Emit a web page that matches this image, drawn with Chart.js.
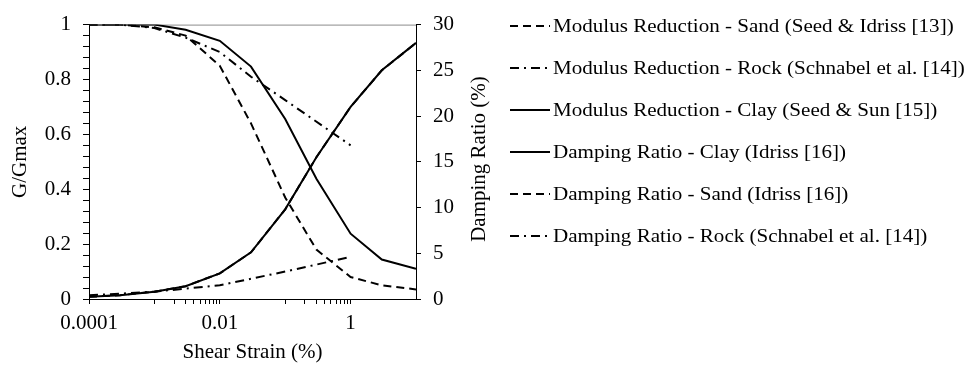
<!DOCTYPE html>
<html>
<head>
<meta charset="utf-8">
<script src="https://cdn.jsdelivr.net/npm/chart.js@4/dist/chart.umd.min.js"></script>
<style>
  html, body { margin: 0; padding: 0; background: #fff; }
  #wrap { width: 966px; height: 365px; }
</style>
</head>
<body>
<div id="wrap"><canvas id="strainChart"></canvas></div>
<script>
// strain values (%) shared by the sand and clay curves
const strain = [0.0001, 0.0003, 0.001, 0.003, 0.01, 0.03, 0.1, 0.3, 1, 3, 10];
const sandModulus = [1.0, 1.0, 0.99, 0.96, 0.85, 0.64, 0.37, 0.18, 0.08, 0.05, 0.035];
const clayModulus = [1.0, 1.0, 1.0, 0.981, 0.941, 0.847, 0.656, 0.438, 0.238, 0.144, 0.11];
const clayDamping = [0.24, 0.42, 0.8, 1.4, 2.8, 5.1, 9.8, 15.5, 21, 25, 28];
const sandDamping = [0.24, 0.42, 0.8, 1.4, 2.8, 5.1, 9.8, 15.5, 21, 25, 28];

// rock curves stop at 1 %
const rockStrain = [0.0001, 0.0003, 0.001, 0.003, 0.01, 0.03, 0.1, 1];
const rockModulus = [1.0, 1.0, 0.9875, 0.9525, 0.9, 0.81, 0.725, 0.56];
const rockDampStrain = [0.0001, 0.001, 0.01, 0.1, 1];
const rockDamping = [0.4, 0.8, 1.5, 3.0, 4.6];

const seriesLabels = [
    'Modulus Reduction - Sand (Seed & Idriss [13])',
    'Modulus Reduction - Rock (Schnabel et al. [14])',
    'Modulus Reduction - Clay (Seed & Sun [15])',
    'Damping Ratio - Clay (Idriss [16])',
    'Damping Ratio - Sand (Idriss [16])',
    'Damping Ratio - Rock (Schnabel et al. [14])'
];

// x axis tick marks (log scale) and the ones that carry a label
const xTickValues = [0.0001, 0.001, 0.002, 0.003, 0.004, 0.005, 0.006, 0.007, 0.008, 0.009, 0.01,
    0.1, 0.2, 0.3, 0.4, 0.5, 0.6, 0.7, 0.8, 0.9, 1];
const xLabelValues = [0.0001, 0.01, 1];
const xLabelText = ['0.0001', '0.01', '1'];

const serif = '"Liberation Serif", "Times New Roman", serif';
const dashed = [8, 5];
const dashDot = [9, 5, 2, 5];

function pairs(xs, ys) {
    return xs.map((x, i) => ({ x: x, y: ys[i] }));
}

function lineSet(label, data, axis, dash) {
    return {
        label: label,
        data: data,
        yAxisID: axis,
        borderColor: '#000',
        backgroundColor: '#000',
        borderWidth: 2,
        borderDash: dash,
        pointRadius: 0,
        tension: 0,
        fill: false
    };
}

// legend and right-hand title are drawn by hand so they sit where the original has them
const sidePlugin = {
    id: 'sideText',
    beforeDatasetsDraw(chart) {
        const { ctx, chartArea } = chart;
        ctx.save();
        ctx.strokeStyle = '#8c8c8c';
        ctx.lineWidth = 1;
        ctx.beginPath();
        ctx.moveTo(chartArea.left, chartArea.top + 0.5);
        ctx.lineTo(chartArea.right, chartArea.top + 0.5);
        ctx.stroke();
        ctx.restore();
    },
    afterDraw(chart) {
        const ctx = chart.ctx;
        ctx.save();
        ctx.fillStyle = '#000';

        // right axis title, reading bottom to top
        ctx.save();
        ctx.translate(479, 159);
        ctx.rotate(-Math.PI / 2);
        ctx.font = '21px ' + serif;
        ctx.textAlign = 'center';
        ctx.textBaseline = 'middle';
        ctx.fillText('Damping Ratio (%)', 0, 0);
        ctx.restore();

        // legend
        chart.data.datasets.forEach((ds, i) => {
            const cy = 26 + i * 42;
            ctx.save();
            ctx.strokeStyle = '#000';
            ctx.lineWidth = 2;
            ctx.setLineDash(ds.borderDash || []);
            ctx.beginPath();
            ctx.moveTo(510, cy);
            ctx.lineTo(550, cy);
            ctx.stroke();
            ctx.restore();

            ctx.save();
            ctx.translate(553, cy + 6);
            ctx.scale(1.17, 1);
            ctx.font = '18px ' + serif;
            ctx.textAlign = 'left';
            ctx.textBaseline = 'alphabetic';
            ctx.fillText(ds.label, 0, 0);
            ctx.restore();
        });
        ctx.restore();
    }
};

const ctx1 = document.getElementById('strainChart').getContext('2d');
const strainChart = new Chart(ctx1, {
    type: 'line',
    data: {
        datasets: [
            lineSet(seriesLabels[0], pairs(strain, sandModulus), 'y', dashed),
            lineSet(seriesLabels[1], pairs(rockStrain, rockModulus), 'y', dashDot),
            lineSet(seriesLabels[2], pairs(strain, clayModulus), 'y', []),
            lineSet(seriesLabels[3], pairs(strain, clayDamping), 'y1', []),
            lineSet(seriesLabels[4], pairs(strain, sandDamping), 'y1', dashed),
            lineSet(seriesLabels[5], pairs(rockDampStrain, rockDamping), 'y1', dashDot)
        ]
    },
    options: {
        responsive: true,
        maintainAspectRatio: false,
        animation: false,
        layout: {
            padding: { top: 19, right: 480, bottom: 0, left: 0 }
        },
        plugins: {
            legend: { display: false },
            tooltip: { enabled: false }
        },
        scales: {
            x: {
                type: 'logarithmic',
                position: 'bottom',
                min: 0.0001,
                max: 10,
                afterBuildTicks: (scale) => {
                    scale.ticks = xTickValues.map(v => ({ value: v }));
                },
                afterFit: (scale) => { scale.height = 66; },
                ticks: {
                    autoSkip: false,
                    maxRotation: 0,
                    padding: 7,
                    color: '#000',
                    font: { family: serif, size: 21 },
                    callback: function(value) {
                        const k = xLabelValues.findIndex(v => Math.abs(Math.log10(v) - Math.log10(value)) < 1e-6);
                        return k >= 0 ? xLabelText[k] : '';
                    }
                },
                grid: { drawOnChartArea: false, drawTicks: true, tickLength: 5, color: '#000' },
                border: { color: '#000', width: 1 },
                title: {
                    display: true,
                    text: 'Shear Strain (%)',
                    color: '#000',
                    font: { family: serif, size: 21 },
                    padding: 0
                }
            },
            y: {
                position: 'left',
                min: 0,
                max: 1,
                afterFit: (scale) => { scale.width = 89; },
                ticks: {
                    stepSize: 0.04,
                    autoSkip: false,
                    padding: 12,
                    color: '#000',
                    font: { family: serif, size: 21 },
                    callback: function(value) {
                        const hundredths = Math.round(value * 100);
                        return hundredths % 20 === 0 ? String(hundredths / 100) : '';
                    }
                },
                grid: { drawOnChartArea: false, drawTicks: true, tickLength: 6, color: '#000' },
                border: { color: '#000', width: 1 },
                title: {
                    display: true,
                    text: 'G/Gmax',
                    color: '#000',
                    font: { family: serif, size: 21 },
                    padding: { top: 8, bottom: 0 }
                }
            },
            y1: {
                position: 'right',
                min: 0,
                max: 30,
                afterFit: (scale) => { scale.width = 70; },
                ticks: {
                    stepSize: 5,
                    padding: 12,
                    color: '#000',
                    font: { family: serif, size: 21 }
                },
                grid: { drawOnChartArea: false, drawTicks: true, tickLength: 5, color: '#000' },
                border: { color: '#000', width: 1 }
            }
        }
    },
    plugins: [sidePlugin]
});
</script>
</body>
</html>
